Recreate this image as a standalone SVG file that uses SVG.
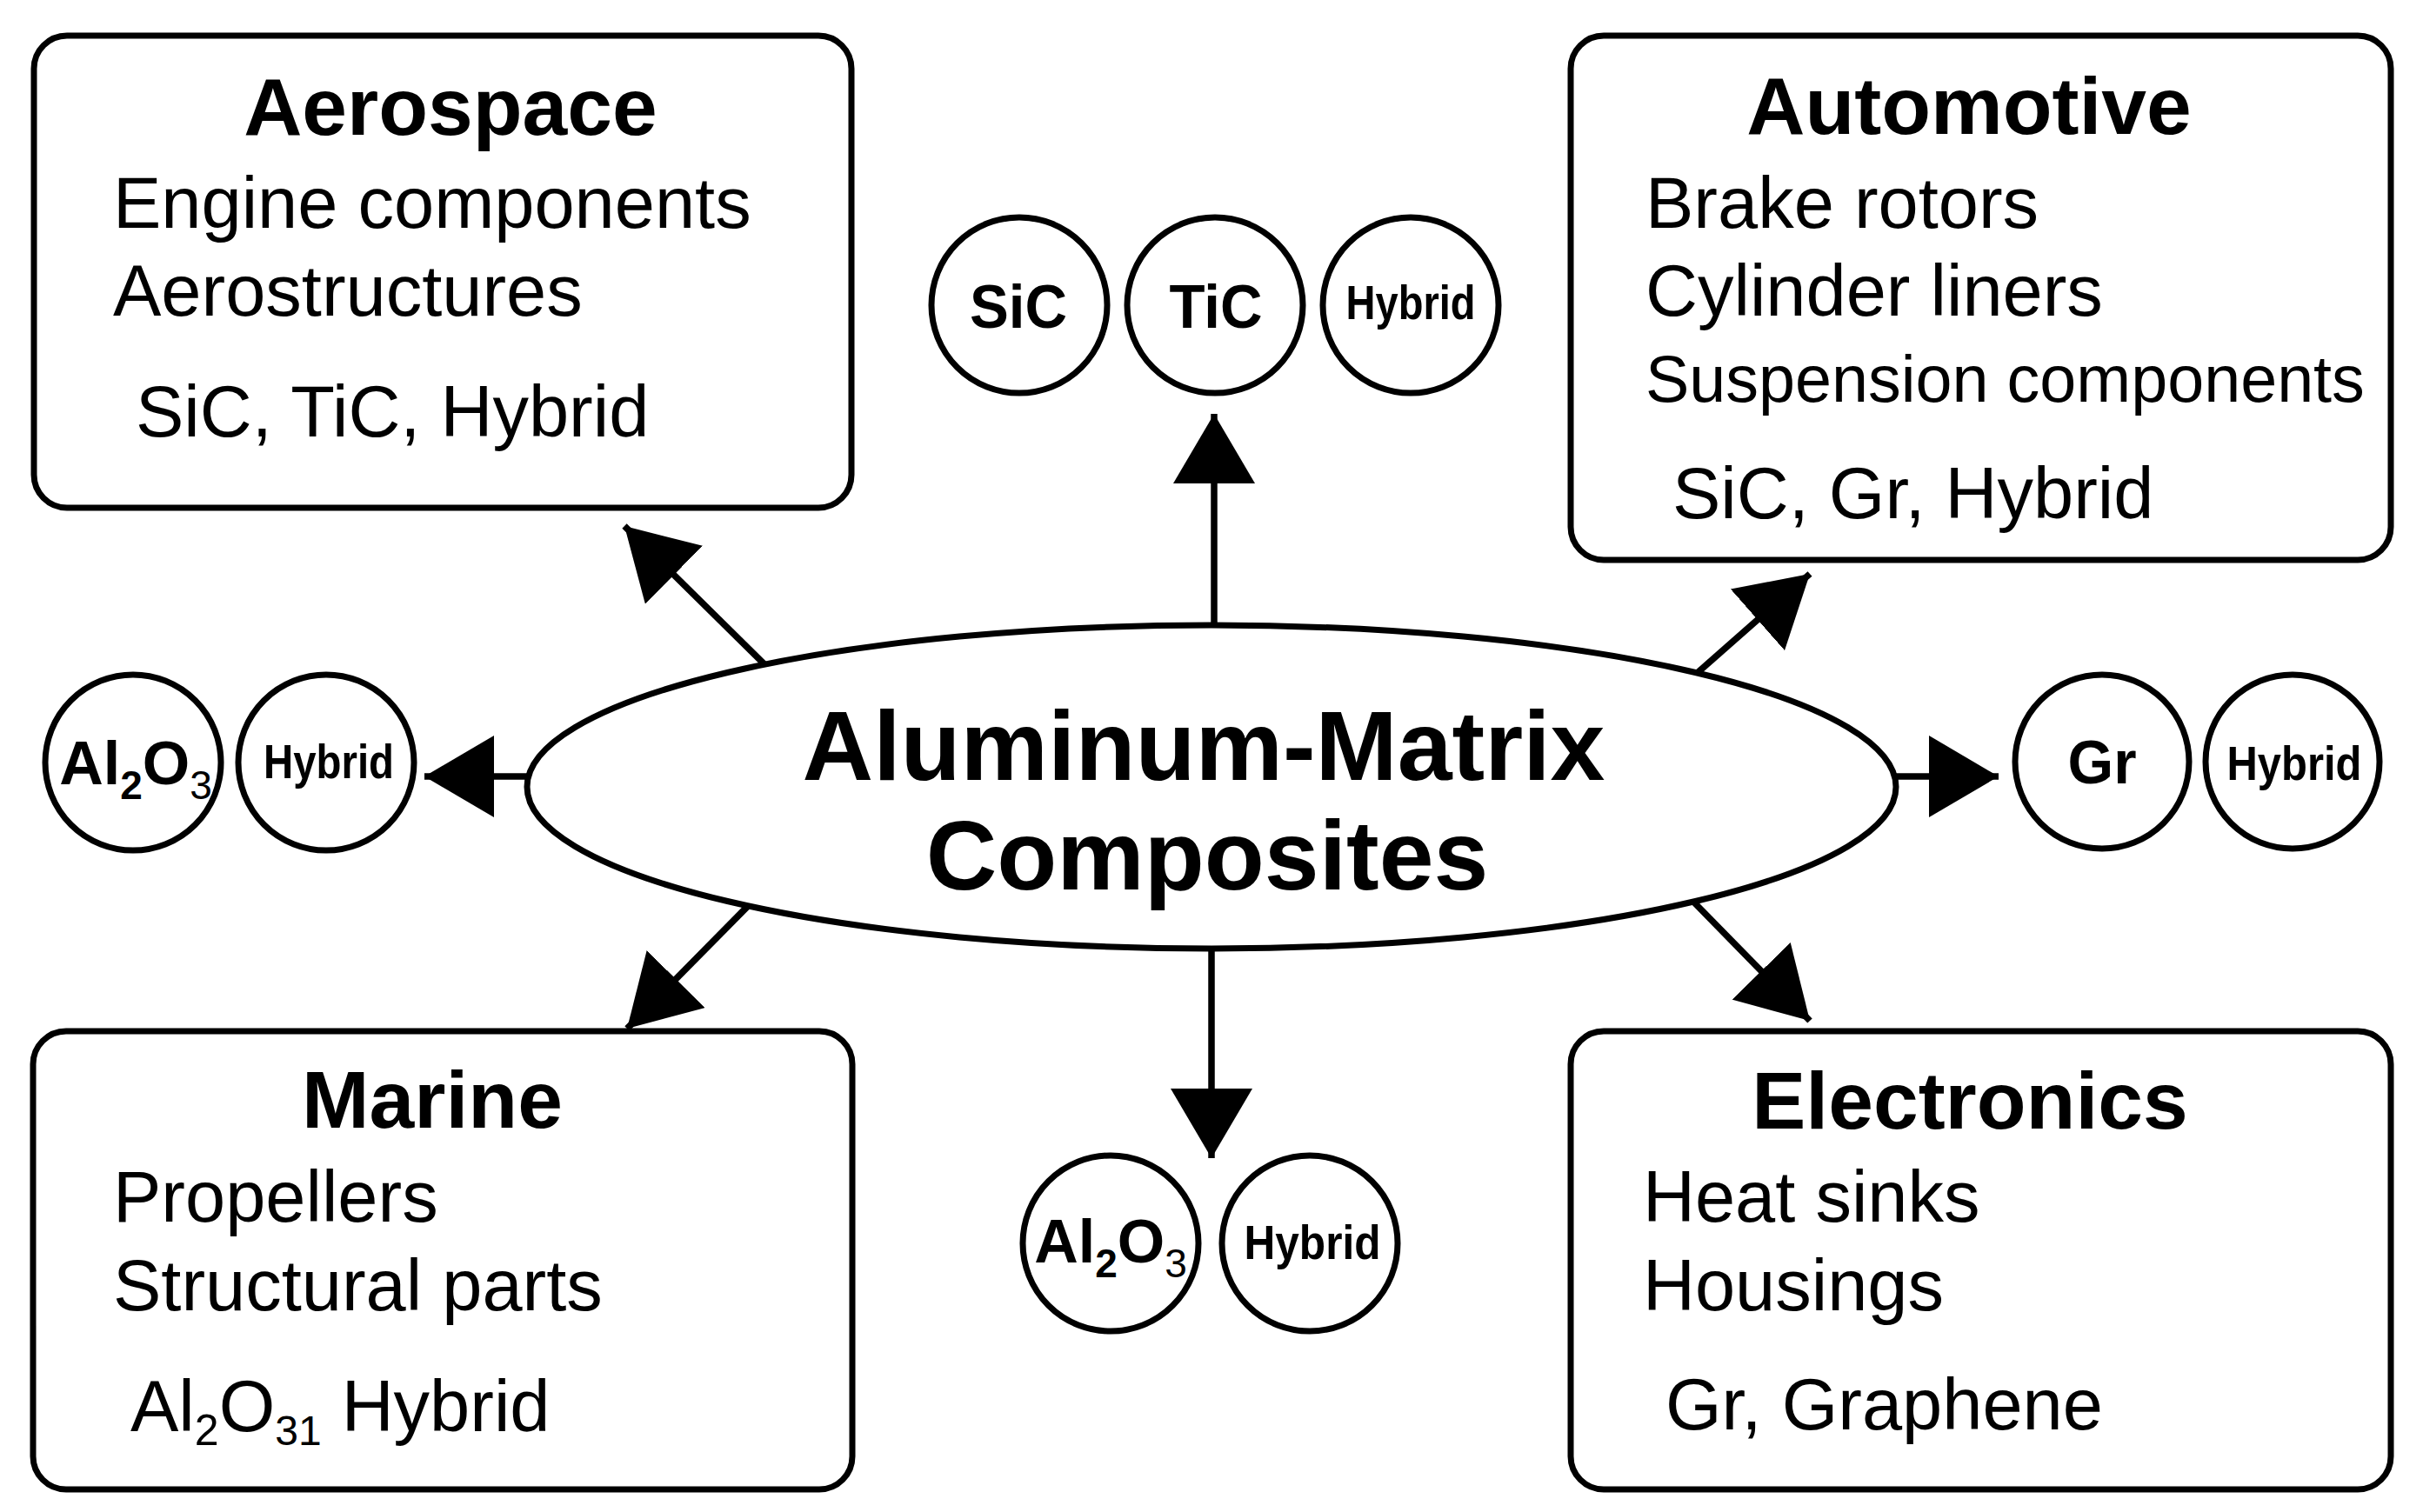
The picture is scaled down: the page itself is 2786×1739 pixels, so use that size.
<svg xmlns="http://www.w3.org/2000/svg" width="2786" height="1739" viewBox="0 0 2786 1739">
  <style>
    text { font-family: "Liberation Sans", Arial, sans-serif; fill: #000; }
    .box { fill: #fff; stroke: #000; stroke-width: 7; }
    .circ { fill: #fff; stroke: #000; stroke-width: 7; }
    .ell { fill: #fff; stroke: #000; stroke-width: 7; }
    .title { font-size: 93px; font-weight: bold; text-anchor: middle; }
    .body { font-size: 83px; }
    .narrow { font-size: 75.5px; }
    .clab { font-size: 70px; font-weight: bold; text-anchor: middle; }
    .hyb { font-size: 55px; font-weight: bold; text-anchor: middle; }
    .center { font-size: 113px; font-weight: bold; text-anchor: middle; }
    .conn { stroke: #000; stroke-width: 7.5; fill: none; marker-end: url(#ah); }
  </style>
  <defs>
    <marker id="ah" viewBox="0 0 80 94" refX="80" refY="47" markerWidth="80" markerHeight="94" markerUnits="userSpaceOnUse" orient="auto">
      <path d="M0,0 L80,47 L0,94 Z" fill="#000"/>
    </marker>
  </defs>
  <rect width="2786" height="1739" fill="#fff"/>

  <g id="connectors">
    <line class="conn" x1="1396" y1="730" x2="1396" y2="476"/>
    <line class="conn" x1="1393" y1="1085" x2="1393" y2="1332"/>
    <line class="conn" x1="615" y1="893" x2="488" y2="893"/>
    <line class="conn" x1="2172" y1="893" x2="2298" y2="893"/>
    <line class="conn" x1="882" y1="767" x2="718" y2="605"/>
    <line class="conn" x1="1948" y1="777" x2="2081" y2="660"/>
    <line class="conn" x1="1948" y1="1038" x2="2081" y2="1174"/>
    <line class="conn" x1="862" y1="1040" x2="721" y2="1183"/>
  </g>

  <g id="center">
    <ellipse class="ell" cx="1393" cy="905" rx="787" ry="186"/>
    <text class="center" x="1384" y="897">Aluminum-Matrix</text>
    <text class="center" x="1388" y="1023">Composites</text>
  </g>

  <g id="aerospace">
    <rect class="box" x="39" y="41" width="940" height="543" rx="38"/>
    <text class="title" x="518" y="155">Aerospace</text>
    <text class="body" x="130" y="262">Engine components</text>
    <text class="body" x="130" y="363">Aerostructures</text>
    <text class="body" x="156" y="502">SiC, TiC, Hybrid</text>
  </g>

  <g id="automotive">
    <rect class="box" x="1806" y="41" width="943" height="603" rx="38"/>
    <text class="title" x="2264" y="154">Automotive</text>
    <text class="body" x="1892" y="262">Brake rotors</text>
    <text class="body" x="1892" y="363">Cylinder liners</text>
    <text class="narrow" x="1892" y="462">Suspension components</text>
    <text class="body" x="1923" y="596">SiC, Gr, Hybrid</text>
  </g>

  <g id="marine">
    <rect class="box" x="38" y="1186" width="942" height="527" rx="38"/>
    <text class="title" x="497" y="1297">Marine</text>
    <text class="body" x="130" y="1405">Propellers</text>
    <text class="body" x="130" y="1507">Structural parts</text>
    <text class="body" x="150" y="1646">Al<tspan font-size="50" dy="16">2</tspan><tspan dy="-16">O</tspan><tspan font-size="48" dy="16">31</tspan><tspan dy="-16"> Hybrid</tspan></text>
  </g>

  <g id="electronics">
    <rect class="box" x="1806" y="1186" width="943" height="527" rx="38"/>
    <text class="title" x="2265" y="1298">Electronics</text>
    <text class="body" x="1889" y="1405">Heat sinks</text>
    <text class="body" x="1889" y="1507">Housings</text>
    <text class="body" x="1915" y="1644">Gr, Graphene</text>
  </g>

  <g id="top-sic">
    <circle class="circ" cx="1172" cy="351" r="101"/>
    <text class="clab" x="1171" y="377" textLength="112" lengthAdjust="spacingAndGlyphs">SiC</text>
  </g>
  <g id="top-tic">
    <circle class="circ" cx="1397" cy="351" r="101"/>
    <text class="clab" x="1398" y="377" textLength="107" lengthAdjust="spacingAndGlyphs">TiC</text>
  </g>
  <g id="top-hybrid">
    <circle class="circ" cx="1622" cy="351" r="101"/>
    <text class="hyb" x="1622" y="367" textLength="149" lengthAdjust="spacingAndGlyphs">Hybrid</text>
  </g>

  <g id="left-al2o3">
    <circle class="circ" cx="153" cy="877" r="101"/>
    <text class="clab" x="156" y="902">Al<tspan font-size="46" dy="17">2</tspan><tspan dy="-17">O</tspan><tspan font-size="46" font-weight="normal" dy="17">3</tspan></text>
  </g>
  <g id="left-hybrid">
    <circle class="circ" cx="375" cy="877" r="101"/>
    <text class="hyb" x="378" y="895" textLength="150" lengthAdjust="spacingAndGlyphs">Hybrid</text>
  </g>

  <g id="right-gr">
    <circle class="circ" cx="2417" cy="876" r="100"/>
    <text class="clab" x="2417" y="901" textLength="79" lengthAdjust="spacingAndGlyphs">Gr</text>
  </g>
  <g id="right-hybrid">
    <circle class="circ" cx="2636" cy="876" r="100"/>
    <text class="hyb" x="2638" y="897" textLength="155" lengthAdjust="spacingAndGlyphs">Hybrid</text>
  </g>

  <g id="bottom-al2o3">
    <circle class="circ" cx="1277" cy="1430" r="101"/>
    <text class="clab" x="1277" y="1452">Al<tspan font-size="46" dy="17">2</tspan><tspan dy="-17">O</tspan><tspan font-size="46" font-weight="normal" dy="17">3</tspan></text>
  </g>
  <g id="bottom-hybrid">
    <circle class="circ" cx="1506" cy="1430" r="101"/>
    <text class="hyb" x="1509" y="1448" textLength="157" lengthAdjust="spacingAndGlyphs">Hybrid</text>
  </g>
</svg>
